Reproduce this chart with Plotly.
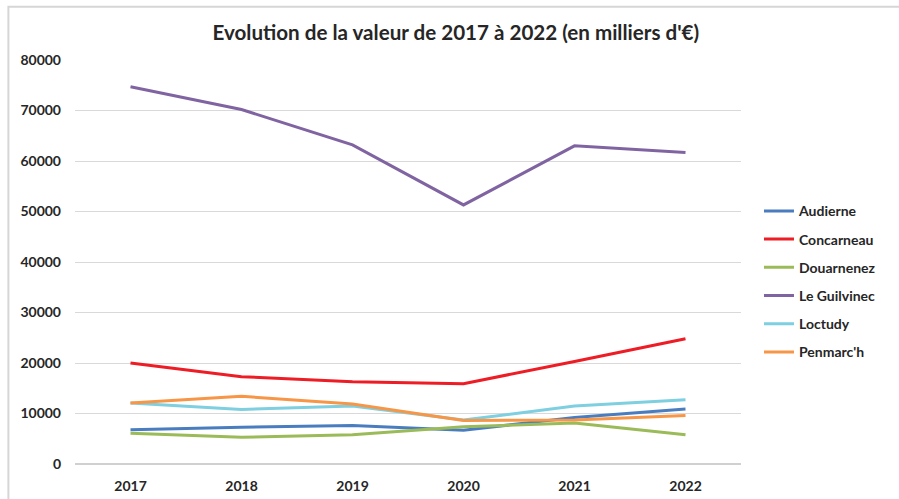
import plotly.graph_objects as go

years = ["2017", "2018", "2019", "2020", "2021", "2022"]

audierne = [6800, 7300, 7600, 6700, 9200, 10900]
concarneau = [20000, 17300, 16300, 15900, 20300, 24800]
douarnenez = [6100, 5300, 5800, 7400, 8100, 5800]
le_guilvinec = [74700, 70200, 63200, 51300, 63000, 61700]
loctudy = [12100, 10800, 11500, 8700, 11500, 12700]
penmarch = [12100, 13400, 11900, 8600, 8700, 9600]

series = [
    ("Audierne", audierne, "#4A7DBF"),
    ("Concarneau", concarneau, "#EE1C25"),
    ("Douarnenez", douarnenez, "#9BBB59"),
    ("Le Guilvinec", le_guilvinec, "#8064A2"),
    ("Loctudy", loctudy, "#7ECFE0"),
    ("Penmarc'h", penmarch, "#F79646"),
]

font_family = "Lato, 'Open Sans', sans-serif"

fig = go.Figure()
for name, vals, color in series:
    fig.add_trace(go.Scatter(x=years, y=vals, name=name, mode="lines",
                             line=dict(color=color, width=3),
                             legendgroup=name))

fig.update_layout(
    width=899, height=499,
    paper_bgcolor="white", plot_bgcolor="white",
    margin=dict(l=75, r=158, t=60, b=35),
    font=dict(family=font_family, size=14, color="#262626"),
    title={
        'text': "<b>Evolution de la valeur de 2017 à 2022 (en milliers d'€)</b>",
        'x': 0.507,
        'xanchor': 'center',
        'y': 0.934,
        'yanchor': 'middle',
        'font': dict(size=20.6, color="#262626")},
    xaxis=dict(type="category", range=[-0.5, 5.5], showgrid=False,
               showline=False, ticks="", ticklabelstandoff=12,
               automargin=False,
               tickfont=dict(size=14, weight="bold")),
    yaxis=dict(range=[0, 80000], dtick=10000, tickformat="d",
               showgrid=True, gridcolor="#D9D9D9", gridwidth=1,
               zeroline=True, zerolinecolor="#D0D0D0", zerolinewidth=2,
               ticks="", ticklabelstandoff=13, automargin=False,
               tickfont=dict(size=14, weight="bold")),
    legend=dict(x=1.027, y=0.451, xanchor="left", yanchor="middle",
                font=dict(size=14, weight="bold"),
                tracegroupgap=7, itemwidth=30),
    showlegend=True,
)

# outer chart border
fig.add_shape(type="rect", xref="paper", yref="paper",
              x0=-0.1, x1=1.3, y0=-0.1, y1=1.132,
              line=dict(color="#D6D6D6", width=2), layer="below")

# drop the default page margin so the chart sits at the window corner
fig.write_html("out.html", config={'displayModeBar': False},
               post_script="document.body.style.margin='0';")
